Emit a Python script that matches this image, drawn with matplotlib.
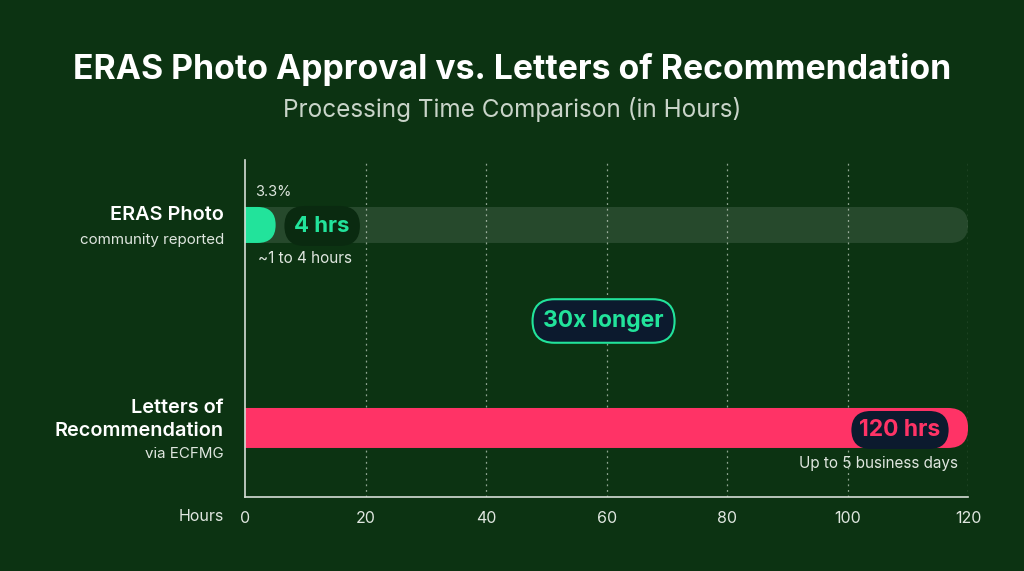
import matplotlib.pyplot as plt
from matplotlib.patches import FancyBboxPatch

plt.rcParams['font.family'] = ['Inter', 'DejaVu Sans']

# data
categories = ['ERAS Photo', 'Letters of\nRecommendation']
subtitles = ['community reported', 'via ECFMG']
hours = [4, 120]
value_labels = ['4 hrs', '120 hrs']
notes = ['~1 to 4 hours', 'Up to 5 business days']
pct_label = '3.3%'
ratio_label = '30x longer'
xticks = [0, 20, 40, 60, 80, 100, 120]

BG = '#0c3312'
GREEN = '#22e39b'
PINK = '#ff3366'
NAVY = '#0c1a2e'
TEXT = '#ffffff'
MUTED = '#dfe6df'

fig = plt.figure(figsize=(10.24, 5.71), dpi=100, facecolor=BG)
ax = fig.add_axes([0.2393, 0.1296, 0.7061, 0.5902])
ax.set_facecolor(BG)

xmax = 120
ypos = [1, 0]
ylim = (-0.34, 1.32)
ax.set_xlim(0, xmax)
ax.set_ylim(*ylim)

# pixel scales for rounded caps
ax_w_px = 0.7061 * 1024
ax_h_px = 0.5902 * 571
ux = xmax / ax_w_px
uy = (ylim[1] - ylim[0]) / ax_h_px
aspect = uy / ux

heights_px = [36, 40]
bar_colors = [GREEN, PINK]


def rounded_bar(x_end, y, h_px, color, alpha=1.0, z=2):
    h = h_px * uy
    r = h_px / 2 * ux
    p = FancyBboxPatch((-r * 2, y - h / 2), x_end + r * 2, h,
                       boxstyle=f'round,pad=0,rounding_size={r}',
                       mutation_aspect=aspect, fc=color, ec='none',
                       alpha=alpha, zorder=z)
    ax.add_patch(p)
    p.set_clip_path(ax.patch)
    return r


# grid
for t in xticks[1:]:
    ax.axvline(t, color='#c8d6c8', lw=0.9, ls=(0, (1.5, 3)), alpha=0.7, zorder=1)

# track behind ERAS bar
rounded_bar(xmax, ypos[0], heights_px[0], '#ffffff', alpha=0.11, z=1.5)

for i, (v, y) in enumerate(zip(hours, ypos)):
    r = heights_px[i] / 2 * ux
    end = max(v, 1.7 * r)
    rounded_bar(end, y, heights_px[i], bar_colors[i], z=2)

# value pills
ax.text(12.8, ypos[0] - 0.005, value_labels[0], ha='center', va='center', fontsize=16,
        fontweight='bold', color=GREEN, zorder=5,
        bbox=dict(boxstyle='round,pad=0.45,rounding_size=0.9', fc='#0a2a10', ec='none'))
ax.text(108.7, ypos[1] - 0.01, value_labels[1], ha='center', va='center', fontsize=16.5,
        fontweight='bold', color=PINK, zorder=5,
        bbox=dict(boxstyle='round,pad=0.35,rounding_size=0.85', fc=NAVY, ec='none'))

ax.text(1.6, 1.162, pct_label, ha='left', va='center', fontsize=10.5, color=MUTED)
ax.text(2.1, 0.837, notes[0], ha='left', va='center', fontsize=11, color=MUTED)
ax.text(118.3, -0.173, notes[1], ha='right', va='center', fontsize=11, color=MUTED)

ax.text(59.5, 0.527, ratio_label, ha='center', va='center',
        fontsize=16.5, fontweight='bold', color=GREEN, zorder=5,
        bbox=dict(boxstyle='round,pad=0.47,rounding_size=0.95', fc=NAVY, ec=GREEN, lw=1.5))

# spines / ticks
for s in ['top', 'right']:
    ax.spines[s].set_visible(False)
for s in ['left', 'bottom']:
    ax.spines[s].set_color('#d6ddd6')
    ax.spines[s].set_linewidth(1.2)
ax.set_xticks(xticks)
ax.set_xticklabels([str(t) for t in xticks], fontsize=11.5, color=MUTED)
ax.tick_params(axis='x', length=0, pad=10)
ax.set_yticks([])
ax.text(-3.5, -0.435, 'Hours', ha='right', va='center', fontsize=11.5, color=MUTED)

# category labels
ax.text(-3.5, 1.049, categories[0], ha='right', va='center', fontsize=14.3,
        fontweight='semibold', color=TEXT)
ax.text(-3.5, 0.926, subtitles[0], ha='right', va='center', fontsize=10.9,
        color=MUTED)
ax.text(-3.5, 0.042, categories[1], ha='right', va='center', fontsize=14.3,
        fontweight='semibold', color=TEXT, linespacing=1.32)
ax.text(-3.5, -0.128, subtitles[1], ha='right', va='center', fontsize=10.9,
        color=MUTED)

fig.text(0.5, 1 - 69 / 571, 'ERAS Photo Approval vs. Letters of Recommendation',
         ha='center', va='center', fontsize=24.3, fontweight='bold', color=TEXT)
fig.text(0.5, 1 - 110 / 571, 'Processing Time Comparison (in Hours)',
         ha='center', va='center', fontsize=17.5, color='#c9d4c9')

fig.savefig('out.png', dpi=100, facecolor=BG)
